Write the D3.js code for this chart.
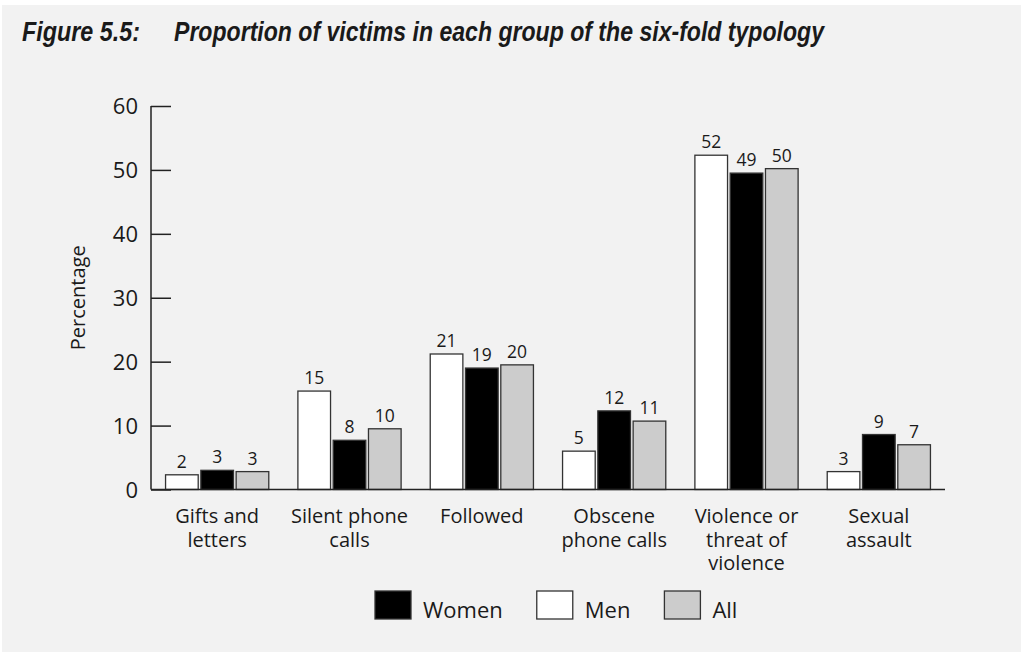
<!DOCTYPE html>
<html>
<head>
<meta charset="utf-8">
<script src="https://cdn.jsdelivr.net/npm/d3@7"></script>
<style>
	body { margin: 0; background: #ffffff; }
	svg { display: block; }
	text { font-family: "Open Sans", "DejaVu Sans", sans-serif; fill: #1a1a1a; }
</style>
</head>
<body>
<svg id="chart"></svg>
<script>

// categories and series
var categories	=	[['Gifts and', 'letters'], ['Silent phone', 'calls'], ['Followed'], ['Obscene', 'phone calls'], ['Violence or', 'threat of', 'violence'], ['Sexual', 'assault']];
var seriesNames	=	['Men', 'Women', 'All'];
var menValues	=	[2.3, 15.4, 21.2, 6.0, 52.3, 2.8];
var womenValues	=	[3.0, 7.7, 19.0, 12.3, 49.5, 8.6];
var allValues	=	[2.8, 9.5, 19.5, 10.7, 50.2, 7.0];
var menLabels	=	['2', '15', '21', '5', '52', '3'];
var womenLabels	=	['3', '8', '19', '12', '49', '9'];
var allLabels	=	['3', '10', '20', '11', '50', '7'];
var yTicks		=	[0, 10, 20, 30, 40, 50, 60];
var legendOrder	=	['Women', 'Men', 'All'];

var fills = { Men: '#ffffff', Women: '#000000', All: '#cccccc' };

var width = 1021;
var height = 654;

var svg = d3.select('#chart')
	.attr('width', width)
	.attr('height', height);

// shaded panel
svg.append('rect')
	.attr('x', 2)
	.attr('y', 5)
	.attr('width', width - 2)
	.attr('height', 647)
	.attr('fill', '#f2f2f2');

// title
var titleFont = '"Liberation Sans Narrow", "Liberation Sans", sans-serif';

svg.append('text')
	.attr('x', 22)
	.attr('y', 41)
	.attr('textLength', 118)
	.attr('lengthAdjust', 'spacingAndGlyphs')
	.style('font-family', titleFont)
	.style('font-weight', 'bold')
	.style('font-style', 'italic')
	.style('font-size', '28px')
	.text('Figure 5.5:');

svg.append('text')
	.attr('x', 174)
	.attr('y', 41)
	.attr('textLength', 650)
	.attr('lengthAdjust', 'spacingAndGlyphs')
	.style('font-family', titleFont)
	.style('font-weight', 'bold')
	.style('font-style', 'italic')
	.style('font-size', '28px')
	.text('Proportion of victims in each group of the six-fold typology');

var table = categories.map(function(c, i) {
	return {
		key: i,
		lines: c,
		bars: [
			{ name: 'Men', value: menValues[i], label: menLabels[i] },
			{ name: 'Women', value: womenValues[i], label: womenLabels[i] },
			{ name: 'All', value: allValues[i], label: allLabels[i] }
		]
	};
});

var x0 = d3.scaleBand()
	.domain(table.map(function(d) { return d.key; }))
	.range([151, 945])
	.paddingInner(0.22)
	.paddingOuter(0.11);

var x1 = d3.scaleBand()
	.domain(seriesNames)
	.range([0, x0.bandwidth()])
	.paddingInner(0.075);

var y = d3.scaleLinear()
	.domain([0, 60])
	.range([489.5, 106]);

// y axis, ticks pointing inward
var yAxis = svg.append('g')
	.attr('transform', 'translate(151,0)')
	.call(d3.axisRight(y).tickValues(yTicks).tickSize(20).tickFormat(d3.format('d')));

yAxis.select('.domain').remove();
yAxis.selectAll('line').attr('stroke', '#222').attr('stroke-width', 1.5);
yAxis.selectAll('text')
	.attr('x', -13)
	.attr('dy', '0.35em')
	.attr('text-anchor', 'end')
	.style('font-size', '22px')
	.style('fill', '#1a1a1a');

svg.append('line')
	.attr('x1', 151).attr('x2', 151)
	.attr('y1', y(60)).attr('y2', y(0))
	.attr('stroke', '#222').attr('stroke-width', 1.5);

svg.append('text')
	.attr('transform', 'translate(85,' + ((y(0) + y(60)) / 2) + ') rotate(-90)')
	.attr('text-anchor', 'middle')
	.style('font-size', '20px')
	.text('Percentage');

var groups = svg.append('g')
	.selectAll('g')
	.data(table)
	.enter().append('g')
	.attr('transform', function(d) { return 'translate(' + x0(d.key) + ',0)'; });

groups.selectAll('rect')
	.data(function(d) { return d.bars; })
	.enter().append('rect')
	.attr('x', function(d) { return x1(d.name); })
	.attr('y', function(d) { return y(d.value); })
	.attr('width', x1.bandwidth())
	.attr('height', function(d) { return y(0) - y(d.value); })
	.attr('fill', function(d) { return fills[d.name]; })
	.attr('stroke', '#333')
	.attr('stroke-width', 1.3);

groups.selectAll('text.val')
	.data(function(d) { return d.bars; })
	.enter().append('text')
	.attr('class', 'val')
	.attr('x', function(d) { return x1(d.name) + x1.bandwidth() / 2; })
	.attr('y', function(d) { return y(d.value) - 7; })
	.attr('text-anchor', 'middle')
	.style('font-size', '17.5px')
	.text(function(d) { return d.label; });

// x axis baseline
svg.append('line')
	.attr('x1', 151).attr('x2', 945)
	.attr('y1', y(0)).attr('y2', y(0))
	.attr('stroke', '#222').attr('stroke-width', 1.5);

// category labels
var catText = groups.append('text')
	.attr('text-anchor', 'middle')
	.style('font-size', '20px')
	.attr('transform', 'translate(' + x0.bandwidth() / 2 + ',523)');

catText.selectAll('tspan')
	.data(function(d) { return d.lines; })
	.enter().append('tspan')
	.attr('x', 0)
	.attr('y', function(d, i) { return i * 23.5; })
	.text(function(d) { return d; });

// legend
var legend = svg.append('g');
var lx = 375;
legendOrder.forEach(function(name) {
	legend.append('rect')
		.attr('x', lx)
		.attr('y', 591)
		.attr('width', 36)
		.attr('height', 28)
		.attr('fill', fills[name])
		.attr('stroke', '#333')
		.attr('stroke-width', 1.3);
	var t = legend.append('text')
		.attr('x', lx + 48)
		.attr('y', 618)
		.style('font-size', '22px')
		.text(name);
	lx = lx + 48 + t.node().getComputedTextLength() + 34;
});

</script>
</body>
</html>
